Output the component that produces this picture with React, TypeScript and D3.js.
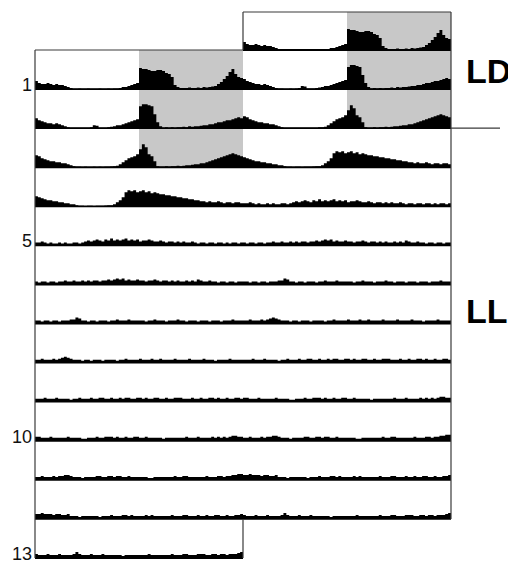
import React from "react";
import * as d3 from "d3";

// activity per 20-min bin (72 bins per 24 h day), counts
const day1 = [8,6,5,5,6,5,4,5,4,4,3,2,1, 0.3,0.3,0.5,0.3,0.3,0.5,0.3,0.3,0.3,0.5,0.3,0.3,0.5,0.3,0.5,0.5, 1,2,2,3,4,5,6, 21,20,20,19,18,18,19,19,18,16,15,12,4, 2,1,1,1,1.5,1,1,1.5,1,2,1.5,2,2.5, 3,5,7,10,13,17,20, 15,12,11];
const day2 = [10,8,7,6,5,5,4,5,4,3,2,1, 0.5,0.5,0.3,0.3,0.5,0.3,0.5,1, 3,2.5,0.5, 0.5,0.5,1,1.5, 2,3,3,4,5,6,7,8,9, 22,24,24,23,22,14, 6,2, 0.5,1,0.5,1,0.5,1,1,1.5,1,2,1.5,2,2, 2.5,3,3,4,4,5,6,6,7,8,8,9,10,11,10];
const day3 = [12,11,9,8,7,6,6,5,5,4,4,3,2,1, 0.5,0.5,0.3,0.5,0.3,0.3,0.5,0.3,0.5,0.3,0.5,0.5,0.8,1,1.5, 3,5,7,9,10,11,13, 18,23,20, 13,11,6, 1,0.5,0.5,1,0.5,1,1,1.5,1,1.5,2,2,2.5,3, 3,4,4,5,6,7,8,9,10,11,12,13,14,13,12,11];
const day4 = [10,9,8,7,6,6,5,5,4,4,3,3,2,2,1, 0.5,0.5,0.3,0.5,0.5,0.3,0.5,0.5,0.5,0.8,1,1, 2,4,6,9, 14,16,15,16,14,15,16,14,15,13,14,13, 12,12,11,11,10,10,9,9,8,8,7,7,6,6, 5,5,4,5,4,4,5,4,3,4,4,3,4,4,3];
const day5 = [3,3,4,3,2,3,2,2,3,2,3,2,2,3,3,2,3,4, 5,4,5,6,5,4,6,5,7,5,6,5,6,7,5,6,5,6,4,5,5,6,5,4, 4,5,4,3,4,4,3,4,3,4,3,3,4,3,2,3,3,2,3,3,2,3,3,2,3,2,3,3,2,3];
const day6 = [3,2,3,3,2,3,3,2,3,3,4,3,3,4,3,3,4,3, 4,3,4,4,3,4,4,5,4,5,6,5,6,4,5,4,4,5, 4,4,3,4,4,5,4,3,4,4,3,4,3,4,3,3,4,3, 4,3,5,4,3,3,4,3,3,2,3,3,2,3,3,2,3,3];
const day7 = [3,3,2,3,3,2,3,3,2,3,3,3,4,4,6,5,3,3, 2,3,3,2,3,3,3,2,3,3,4,3,3,3,4,3,3,3, 3,3,2,3,3,4,3,3,3,2,3,3,3,4,3,3,2,3, 3,3,2,3,3,3,2,3,3,3,2,3,3,3,4,3,3,3];
const day8 = [3,3,4,3,3,3,4,3,4,5,6,5,4,3,3,3,2,3, 3,2,3,3,3,2,3,3,3,3,2,3,3,4,3,3,3,3, 4,3,3,3,4,3,3,4,3,3,3,3,4,3,3,3,3,4, 3,3,3,3,4,3,3,3,2,3,3,3,3,4,3,3,3,3];
const day9 = [3,3,3,4,3,3,3,4,3,3,3,3,2,3,3,4,3,3, 3,4,3,3,4,4,3,3,4,3,3,4,3,4,4,3,3,4, 4,3,4,3,3,4,4,3,3,4,3,3,4,4,4,3,3,3, 4,3,3,4,3,3,4,4,3,4,3,3,4,3,3,4,4,3];
const day10 = [4,4,3,3,3,4,3,3,3,3,3,4,3,3,3,3,2,2, 3,3,3,4,3,3,4,4,4,3,4,3,3,4,3,3,4,4, 3,3,4,3,3,3,3,3,2,3,3,3,3,3,3,3,4,3, 3,3,4,3,3,3,3,4,3,4,3,4,3,4,5,5,4,4];
const day11 = [3,3,4,3,3,3,4,3,4,4,5,5,4,3,3,3,2,3, 3,3,3,4,4,3,3,4,4,3,4,4,3,3,4,3,3,3, 3,3,3,2,2,3,3,3,3,3,3,3,4,3,3,4,4,3, 3,3,3,3,3,4,3,3,3,4,4,3,4,4,5,5,6,6];
const day12 = [5,5,6,5,5,5,4,5,5,4,4,5,3,3,3,2,3,3, 3,3,3,3,2,3,3,3,4,3,3,3,4,4,3,4,3,3, 3,3,4,3,4,3,3,3,3,3,3,4,3,3,3,4,4,3, 3,3,4,3,3,4,3,3,4,4,3,3,4,3,3,4,4,5];
const day13 = [4,3,3,3,4,3,3,3,4,3,3,3,3,4,6,4,3,3, 3,4,3,3,3,4,3,3,3,3,3,3,2,3,3,3,3,3, 3,3,3,4,3,3,3,3,3,3,3,4,3,3,3,4,4,3, 3,3,4,4,4,3,3,4,4,3,4,4,3,4,4,4,5,6];

const days = [day1, day2, day3, day4, day5, day6, day7, day8, day9, day10, day11, day12, day13];
const ldDays = [1, 2, 3];          // days under light/dark cycle
const lightsOffHour = 12;
const lightsOnHour = 24;
const rowLabels = [1, 5, 10, 13];
const conditionLabels = ["LD", "LL"];

const W = 508, H = 562;
const X0 = 35, XM = 243, X1 = 451;
const BASE0 = 50, ROW_H = 39.08, TOP0 = 12;

export default function App() {
  const nRows = days.length + 1; // rows 0..13
  const xLeft = d3.scaleLinear().domain([0, 24]).range([X0, XM]);
  const xRight = d3.scaleLinear().domain([0, 24]).range([XM, X1]);
  const yH = d3.scaleLinear().domain([0, 39]).range([0, 39]);
  const baseOf = (r: number) => BASE0 + r * ROW_H;
  const topOf = (r: number) => (r === 0 ? TOP0 : baseOf(r) - ROW_H);

  const halves: { r: number; day: number; xs: d3.ScaleLinear<number, number> }[] = [];
  for (let r = 0; r < nRows; r++) {
    if (r >= 1 && r <= days.length) halves.push({ r, day: r, xs: xLeft });
    if (r + 1 <= days.length) halves.push({ r, day: r + 1, xs: xRight });
  }

  const makePath = (vals: number[], xs: d3.ScaleLinear<number, number>, base: number) => {
    const n = vals.length;
    const pts: [number, number][] = vals.map((v, i) => [(i * 24) / n, v]);
    pts.push([24, vals[n - 1]]);
    const area = d3
      .area<[number, number]>()
      .x((d) => xs(d[0]))
      .y0(base)
      .y1((d) => base - yH(d[1]))
      .curve(d3.curveStepAfter);
    return area(pts) || "";
  };

  const frame = "#3a3a3a";
  const font = "'Liberation Sans', Arial, Helvetica, sans-serif";

  return (
    <svg width={W} height={H} style={{ position: "absolute", left: 0, top: 0, background: "#fff" }}>
      {/* dark-phase shading */}
      {halves
        .filter((h) => ldDays.includes(h.day))
        .map((h, i) => (
          <rect
            key={"s" + i}
            x={h.xs(lightsOffHour)}
            y={topOf(h.r)}
            width={h.xs(lightsOnHour) - h.xs(lightsOffHour)}
            height={baseOf(h.r) - topOf(h.r)}
            fill="#c8c8c8"
          />
        ))}
      {/* activity */}
      {halves.map((h, i) => (
        <path key={"a" + i} d={makePath(days[h.day - 1], h.xs, baseOf(h.r))} fill="#000" />
      ))}
      {/* baselines */}
      {d3.range(nRows).map((r) => (
        <line
          key={"b" + r}
          x1={r === 0 ? XM : X0}
          x2={r === nRows - 1 ? XM : X1}
          y1={baseOf(r)}
          y2={baseOf(r)}
          stroke="#000"
          strokeWidth={1.8}
        />
      ))}
      {/* frame */}
      <line x1={XM} x2={X1} y1={TOP0} y2={TOP0} stroke={frame} strokeWidth={1.2} />
      <line x1={XM} x2={XM} y1={TOP0} y2={BASE0} stroke={frame} strokeWidth={1.2} />
      <line x1={X0} x2={XM} y1={BASE0} y2={BASE0} stroke={frame} strokeWidth={1.2} />
      <line x1={X0} x2={X0} y1={BASE0} y2={baseOf(nRows - 1)} stroke={frame} strokeWidth={1.2} />
      <line x1={X1} x2={X1} y1={TOP0} y2={baseOf(nRows - 2)} stroke={frame} strokeWidth={1.2} />
      <line x1={XM} x2={XM} y1={baseOf(nRows - 2)} y2={baseOf(nRows - 1)} stroke={frame} strokeWidth={1.2} />
      {/* LD / LL separator */}
      <line
        x1={X1}
        x2={500}
        y1={baseOf(ldDays[ldDays.length - 1] - 1)}
        y2={baseOf(ldDays[ldDays.length - 1] - 1)}
        stroke={frame}
        strokeWidth={1.2}
      />
      {/* row labels */}
      {rowLabels.map((d) => (
        <text
          key={"l" + d}
          x={32}
          y={baseOf(d) + 2}
          textAnchor="end"
          fontFamily={font}
          fontSize={18}
          fill="#111"
        >
          {d}
        </text>
      ))}
      {/* condition labels */}
      <text x={466} y={83} fontFamily={font} fontWeight="bold" fontSize={34} fill="#000">
        {conditionLabels[0]}
      </text>
      <text x={466} y={323} fontFamily={font} fontWeight="bold" fontSize={34} fill="#000">
        {conditionLabels[1]}
      </text>
    </svg>
  );
}
